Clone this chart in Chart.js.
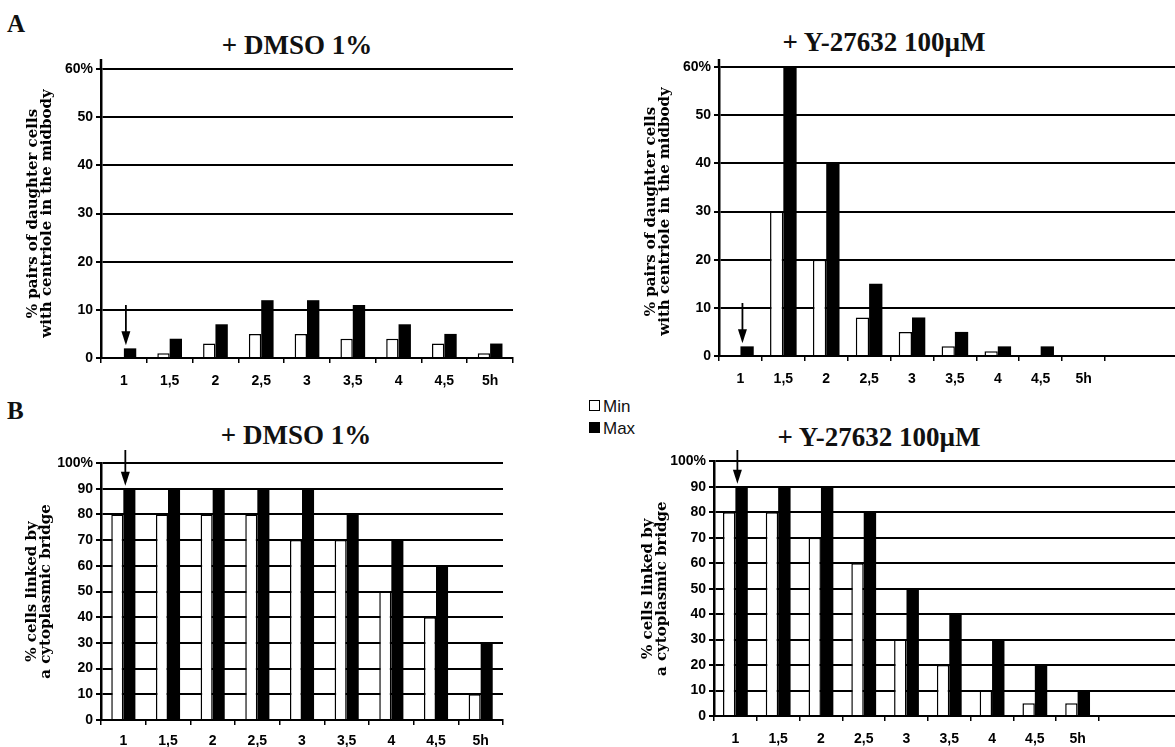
<!DOCTYPE html>
<html>
<head>
<meta charset="utf-8">
<script src="https://cdn.jsdelivr.net/npm/chart.js@4.4.1/dist/chart.umd.min.js"></script>
<style>
  body { margin:0; background:#fff; width:1175px; height:747px; position:relative; overflow:hidden; }
  canvas { position:absolute; }
  .title { position:absolute; font-family:"Liberation Serif","Times New Roman",serif; font-weight:bold; font-size:27px; line-height:1; color:#111; white-space:nowrap; transform:translateX(-50%); }
  .panel { position:absolute; font-family:"Liberation Serif","Times New Roman",serif; font-weight:bold; font-size:25px; line-height:1; color:#111; }
  #legend { position:absolute; left:589px; top:396px; font-family:"Liberation Sans",Arial,sans-serif; font-size:17px; line-height:22px; color:#111; }
  #legend span.box { display:inline-block; width:9px; height:9px; border:1px solid #000; margin-right:3px; vertical-align:1px; }
</style>
</head>
<body>
<div class="panel" style="left:7px;top:11px">A</div>
<div class="panel" style="left:7px;top:398px">B</div>
<div class="title" style="left:297px;top:32px">+ DMSO 1%</div>
<div class="title" style="left:884px;top:29px">+ Y-27632 100µM</div>
<div class="title" style="left:296px;top:422px">+ DMSO 1%</div>
<div class="title" style="left:879px;top:424px">+ Y-27632 100µM</div>
<div id="legend"></div>

<canvas id="aLeft" width="530" height="345" style="left:0;top:55px"></canvas>
<canvas id="aRight" width="575" height="345" style="left:600px;top:55px"></canvas>
<canvas id="bLeft" width="530" height="297" style="left:0;top:450px"></canvas>
<canvas id="bRight" width="575" height="297" style="left:600px;top:450px"></canvas>

<script>
// time after release (h)
const hours = ["1", "1,5", "2", "2,5", "3", "3,5", "4", "4,5", "5h"];
const seriesNames = ["Min", "Max"];

// A: % pairs of daughter cells with centriole in the midbody
const midbodyDmsoMin = [0, 1, 3, 5, 5, 4, 4, 3, 1];
const midbodyDmsoMax = [2, 4, 7, 12, 12, 11, 7, 5, 3];
const midbodyY27Min = [0, 30, 20, 8, 5, 2, 1, 0, 0];
const midbodyY27Max = [2, 60, 40, 15, 8, 5, 2, 2, 0];
const midbodyTicks = ["0", "10", "20", "30", "40", "50", "60%"];

// B: % cells linked by a cytoplasmic bridge
const bridgeDmsoMin = [80, 80, 80, 80, 70, 70, 50, 40, 10];
const bridgeDmsoMax = [90, 90, 90, 90, 90, 80, 70, 60, 30];
const bridgeY27Min = [80, 80, 70, 60, 30, 20, 10, 5, 5];
const bridgeY27Max = [90, 90, 90, 80, 50, 40, 30, 20, 10];
const bridgeTicks = ["0", "10", "20", "30", "40", "50", "60", "70", "80", "90", "100%"];

const barFill = ["#ffffff", "#000000"];

// legend
const legend = document.getElementById("legend");
seriesNames.forEach((name, i) => {
  const row = document.createElement("div");
  row.innerHTML = '<span class="box" style="background:' + barFill[i] + '"></span>' + name;
  legend.appendChild(row);
});

Chart.defaults.font.family = '"Liberation Sans", Arial, sans-serif';
Chart.defaults.color = "#000";

// downward arrow over the first time point
const arrowPlugin = {
  id: "arrow",
  afterDatasetsDraw(chart, args, opts) {
    if (opts.from === undefined) return;
    const ctx = chart.ctx;
    const px = chart.scales.x.getPixelForValue(0) + 2;
    const top = chart.scales.y.getPixelForValue(opts.from);
    const tip = chart.getDatasetMeta(1).data[0].y - 3;
    ctx.save();
    ctx.strokeStyle = "#000";
    ctx.fillStyle = "#000";
    ctx.lineWidth = 1.8;
    ctx.beginPath();
    ctx.moveTo(px, top);
    ctx.lineTo(px, tip - 10);
    ctx.stroke();
    ctx.beginPath();
    ctx.moveTo(px - 4.5, tip - 14);
    ctx.lineTo(px + 4.5, tip - 14);
    ctx.lineTo(px, tip);
    ctx.closePath();
    ctx.fill();
    ctx.restore();
  }
};

// horizontal gridlines continue past the last category, y axis pokes above the top line
const gridTail = {
  id: "gridTail",
  beforeDatasetsDraw(chart, args, opts) {
    const ctx = chart.ctx;
    const y = chart.scales.y;
    const area = chart.chartArea;
    ctx.save();
    ctx.strokeStyle = "#000";
    ctx.lineWidth = 2;
    if (opts.on) {
      y.ticks.forEach((t, i) => {
        const py = Math.round(y.getPixelForTick(i));
        ctx.beginPath();
        ctx.moveTo(area.right, py);
        ctx.lineTo(chart.width, py);
        ctx.stroke();
      });
    }
    if (opts.axisOver) {
      ctx.lineWidth = 2.5;
      ctx.beginPath();
      ctx.moveTo(area.left, area.top);
      ctx.lineTo(area.left, area.top - opts.axisOver);
      ctx.stroke();
    }
    ctx.restore();
  }
};

Chart.register(arrowPlugin, gridTail);

function makeChart(id, minData, maxData, tickLabels, yTitle, lay) {
  const yMax = (tickLabels.length - 1) * 10;
  return new Chart(document.getElementById(id), {
    type: "bar",
    data: {
      labels: hours,
      datasets: [
        { label: seriesNames[0], data: minData, backgroundColor: barFill[0], borderColor: "#000", borderWidth: 1.5 },
        { label: seriesNames[1], data: maxData, backgroundColor: barFill[1], borderColor: "#000", borderWidth: 0 }
      ]
    },
    options: {
      responsive: false,
      animation: false,
      layout: { padding: { top: lay.top, right: lay.right, bottom: 0, left: 0 } },
      datasets: { bar: { categoryPercentage: lay.cat, barPercentage: 1 } },
      plugins: {
        legend: { display: false },
        tooltip: { enabled: false },
        arrow: { from: lay.arrowFrom },
        gridTail: { on: lay.tail, axisOver: lay.axisOver }
      },
      scales: {
        x: {
          grid: { drawOnChartArea: false, drawTicks: true, tickLength: 5, color: "#000", lineWidth: 1.5 },
          border: { color: "#000", width: 2 },
          ticks: { padding: lay.xPad, font: { size: 14, weight: "bold" }, maxRotation: 0 },
          afterFit: (s) => { s.height = lay.xHeight; }
        },
        y: {
          min: 0,
          max: yMax,
          grid: { color: "#000", lineWidth: 2, tickLength: 5 },
          border: { color: "#000", width: 2.5 },
          ticks: {
            stepSize: 10,
            padding: 3,
            font: { size: 14, weight: "bold" },
            callback: (v, i) => tickLabels[i]
          },
          title: {
            display: true,
            text: yTitle,
            font: { family: '"DejaVu Serif", serif', size: 15, weight: "bold", lineHeight: 0.95 },
            padding: { top: lay.titlePad, bottom: 0 }
          },
          afterFit: (s) => { s.width = lay.yWidth; }
        }
      }
    }
  });
}

const midbodyTitle = ["% pairs of daughter cells", "with centriole in the midbody"];
const bridgeTitle = ["% cells linked by", "a cytoplasmic bridge"];

makeChart("aLeft", midbodyDmsoMin, midbodyDmsoMax, midbodyTicks, midbodyTitle,
  { top: 14, right: 17, yWidth: 101, xHeight: 42, xPad: 10, cat: 0.54, titlePad: 26, arrowFrom: 11, tail: false, axisOver: 10 });
makeChart("aRight", midbodyY27Min, midbodyY27Max, midbodyTicks, midbodyTitle,
  { top: 12, right: 70, yWidth: 119, xHeight: 44, xPad: 10, cat: 0.62, titlePad: 44, arrowFrom: 11, tail: true, axisOver: 8 });
makeChart("bLeft", bridgeDmsoMin, bridgeDmsoMax, bridgeTicks, bridgeTitle,
  { top: 13, right: 27, yWidth: 101, xHeight: 27, xPad: 8, cat: 0.54, titlePad: 25, arrowFrom: 106, tail: false, axisOver: 0 });
makeChart("bRight", bridgeY27Min, bridgeY27Max, bridgeTicks, bridgeTitle,
  { top: 11, right: 76, yWidth: 114, xHeight: 31, xPad: 10, cat: 0.58, titlePad: 41, arrowFrom: 105, tail: true, axisOver: 0 });
</script>
</body>
</html>
